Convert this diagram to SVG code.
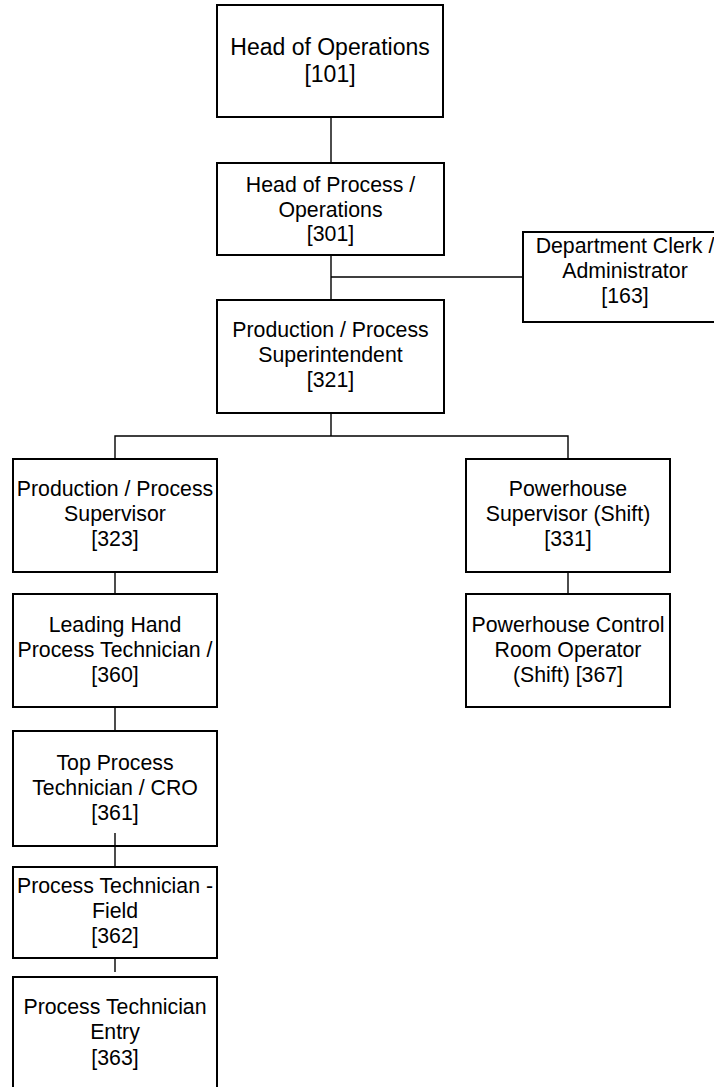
<svg xmlns="http://www.w3.org/2000/svg" width="714" height="1087" viewBox="0 0 714 1087">
<style>
.box{fill:#fff;stroke:#000;stroke-width:2}
.t{font-family:"Liberation Sans",Arial,sans-serif;font-size:21.3px;fill:#000;text-anchor:middle}
.t1{font-size:23px}
.c{stroke:#000;stroke-width:1.4;fill:none}
</style>
<rect width="714" height="1087" fill="#fff"/>
<g id="n101"><rect class="box" x="217" y="5" width="226" height="112"/>
<text class="t t1" x="330" y="55">Head of Operations</text>
<text class="t t1" x="330" y="82">[101]</text></g>
<g id="n301"><rect class="box" x="217" y="163" width="227" height="92"/>
<text class="t" x="330.5" y="192">Head of Process /</text>
<text class="t" x="330.5" y="216.5">Operations</text>
<text class="t" x="330.5" y="241">[301]</text></g>
<g id="n163"><rect class="box" x="523" y="232" width="204" height="90"/>
<text class="t" x="625" y="253">Department Clerk /</text>
<text class="t" x="625" y="278">Administrator</text>
<text class="t" x="625" y="303">[163]</text></g>
<g id="n321"><rect class="box" x="217" y="300" width="227" height="113"/>
<text class="t" x="330.5" y="337">Production / Process</text>
<text class="t" x="330.5" y="362">Superintendent</text>
<text class="t" x="330.5" y="387">[321]</text></g>
<g id="n323"><rect class="box" x="13" y="459" width="204" height="113"/>
<text class="t" x="115" y="496">Production / Process</text>
<text class="t" x="115" y="521">Supervisor</text>
<text class="t" x="115" y="546">[323]</text></g>
<g id="n331"><rect class="box" x="466" y="459" width="204" height="113"/>
<text class="t" x="568" y="496">Powerhouse</text>
<text class="t" x="568" y="521">Supervisor (Shift)</text>
<text class="t" x="568" y="546">[331]</text></g>
<g id="n360"><rect class="box" x="13" y="594" width="204" height="113"/>
<text class="t" x="115" y="632">Leading Hand</text>
<text class="t" x="115" y="657">Process Technician /</text>
<text class="t" x="115" y="682">[360]</text></g>
<g id="n367"><rect class="box" x="466" y="594" width="204" height="113"/>
<text class="t" x="568" y="632">Powerhouse Control</text>
<text class="t" x="568" y="657">Room Operator</text>
<text class="t" x="568" y="682">(Shift) [367]</text></g>
<g id="n361"><rect class="box" x="13" y="731" width="204" height="115"/>
<text class="t" x="115" y="770">Top Process</text>
<text class="t" x="115" y="794.5">Technician / CRO</text>
<text class="t" x="115" y="820">[361]</text></g>
<g id="n362"><rect class="box" x="13" y="867" width="204" height="91"/>
<text class="t" x="115" y="892.5">Process Technician -</text>
<text class="t" x="115" y="918">Field</text>
<text class="t" x="115" y="943">[362]</text></g>
<g id="n363"><rect class="box" x="13" y="977" width="204" height="113"/>
<text class="t" x="115" y="1013.5">Process Technician</text>
<text class="t" x="115" y="1039">Entry</text>
<text class="t" x="115" y="1064.5">[363]</text></g>
<g id="connectors">
<path class="c" d="M331 117V163"/>
<path class="c" d="M331 255V300M331 277H523"/>
<path class="c" d="M331 413V436M115 459V436H568V459"/>
<path class="c" d="M115 572V594M115 707V731M115 833V867M115 958V972"/>
<path class="c" d="M568 572V594"/>
</g>
</svg>
